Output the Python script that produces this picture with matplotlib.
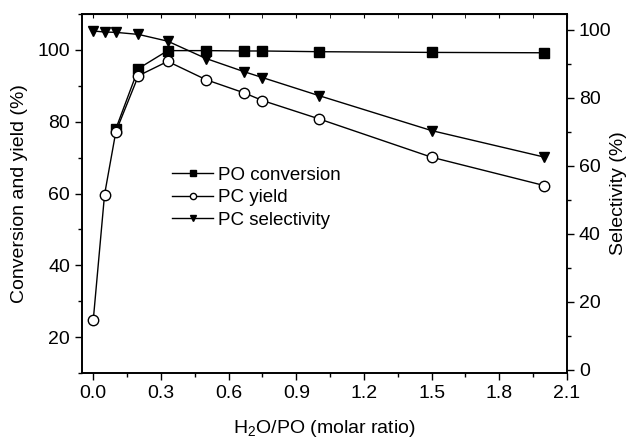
import matplotlib
matplotlib.use('Agg')
import matplotlib.pyplot as plt
from matplotlib.ticker import MultipleLocator

plt.rcParams['font.family'] = ['Liberation Sans', 'DejaVu Sans']
plt.rcParams['mathtext.fontset'] = 'custom'
plt.rcParams['mathtext.rm'] = 'Liberation Sans'

# data
ratio = [0, 0.05, 0.1, 0.2, 0.33, 0.5, 0.67, 0.75, 1.0, 1.5, 2.0]
po_ratio = [0.1, 0.2, 0.33, 0.5, 0.67, 0.75, 1.0, 1.5, 2.0]
po_conversion = [78.0, 94.8, 99.8, 99.8, 99.7, 99.7, 99.5, 99.3, 99.2]
pc_yield = [24.8, 59.7, 77.2, 92.8, 96.8, 91.7, 88.0, 85.9, 80.8, 70.1, 62.2]
pc_selectivity = [99.7, 99.4, 99.3, 98.7, 96.7, 91.6, 87.7, 86.0, 80.7, 70.4, 62.6]
xticks = [0.0, 0.3, 0.6, 0.9, 1.2, 1.5, 1.8, 2.1]

fs = 14

fig = plt.figure(figsize=(6.33, 4.45), dpi=100)
ax = fig.add_axes([82/633, 1-373/445, (567-82)/633, (373-14)/445])
ax2 = ax.twinx()

l1, = ax.plot(po_ratio, po_conversion, '-s', color='black', lw=1, ms=6.5,
              mfc='black', mec='black', label='PO conversion', zorder=3)
l2, = ax.plot(ratio, pc_yield, '-o', color='black', lw=1, ms=7.5,
              mfc='white', mec='black', label='PC yield', zorder=4)
l3, = ax2.plot(ratio, pc_selectivity, '-v', color='black', lw=1, ms=7.5,
               mfc='black', mec='black', label='PC selectivity')

ax.set_xlim(-0.05, 2.1)
ax.set_ylim(10, 110)
ax2.set_ylim(-0.9, 104.7)

ax.set_xticks(xticks)
ax.set_xticklabels(['%.1f' % v for v in xticks])
ax.xaxis.set_minor_locator(MultipleLocator(0.15))
ax.set_yticks([20, 40, 60, 80, 100])
ax.yaxis.set_minor_locator(MultipleLocator(10))
ax2.set_yticks([0, 20, 40, 60, 80, 100])
ax2.yaxis.set_minor_locator(MultipleLocator(10))

ax.tick_params(axis='both', which='major', direction='out', length=5, width=1, labelsize=fs)
ax.tick_params(axis='both', which='minor', direction='out', length=3, width=1)
ax2.tick_params(axis='y', which='major', direction='out', length=5, width=1, labelsize=fs)
ax2.tick_params(axis='y', which='minor', direction='out', length=3, width=1)

# top ticks point inward, short
secx = ax.secondary_xaxis('top')
secx.set_xticks(xticks)
secx.xaxis.set_minor_locator(MultipleLocator(0.15))
secx.tick_params(which='both', direction='in', length=3, labeltop=False)

for a in (ax, ax2):
    for s in a.spines.values():
        s.set_linewidth(1.2)

ax.set_xlabel('H$_2$O/PO (molar ratio)', fontsize=fs, labelpad=12)
ax.set_ylabel('Conversion and yield (%)', fontsize=fs, labelpad=7)
ax2.set_ylabel('Selectivity (%)', fontsize=fs, labelpad=-1)

leg = ax.legend(handles=[l1, l2, l3], loc='upper left', bbox_to_anchor=(0.17, 0.595),
                frameon=False, fontsize=13.5, handlelength=2.2, markerscale=0.6,
                handletextpad=0.25, labelspacing=0.28, borderaxespad=0)

fig.savefig('out.png', dpi=100)
